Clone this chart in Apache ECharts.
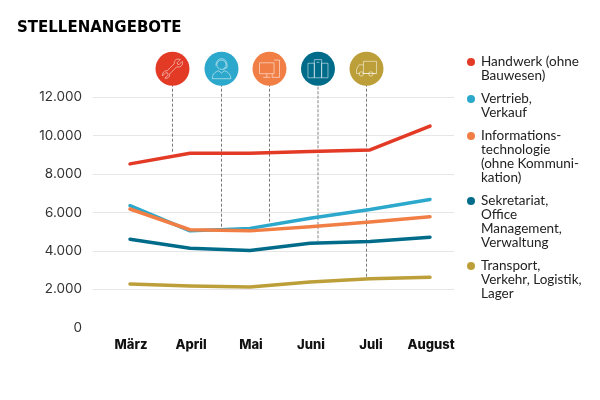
<!DOCTYPE html>
<html>
<head>
<meta charset="utf-8">
<style>html,body{margin:0;padding:0;background:#fff}#chart{width:600px;height:400px}</style>
<script src="https://cdn.jsdelivr.net/npm/echarts@6/dist/echarts.min.js"></script>
</head>
<body>
<div id="chart"></div>
<script>
const months = ['März', 'April', 'Mai', 'Juni', 'Juli', 'August'];
const yTickLabels = ['0', '2.000', '4.000', '6.000', '8.000', '10.000', '12.000'];

const handwerk = [8530, 9080, 9080, 9170, 9260, 10500];
const vertrieb = [6350, 5040, 5170, 5700, 6150, 6680];
const informatik = [6180, 5100, 5040, 5250, 5500, 5770];
const sekretariat = [4600, 4130, 4020, 4400, 4490, 4710];
const transport = [2270, 2170, 2120, 2380, 2550, 2620];

const seriesNames = ['Handwerk', 'Vertrieb', 'Informationstechnologie', 'Sekretariat', 'Transport'];
const seriesValues = [handwerk, vertrieb, informatik, sekretariat, transport];
const colors = ['#e33a26', '#2ba8cb', '#f17f45', '#006c8a', '#bd9f3a'];

const legendLines = [
  ['Handwerk (ohne', 'Bauwesen)'],
  ['Vertrieb,', 'Verkauf'],
  ['Informations-', 'technologie', '(ohne Kommuni-', 'kation)'],
  ['Sekretariat,', 'Office', 'Management,', 'Verwaltung'],
  ['Transport,', 'Verkehr, Logistik,', 'Lager']
];

// icon positions in axis units, the leader lines hang from them
const iconX = [0.7083, 1.525, 2.325, 3.133, 3.9417];
const iconY = 13490;
const leaderEnd = [9100, 5260, 5480, 4530, 2620];

const iconPaths = [
  'M20 3L16.5 6.5L17 8L18.5 8.5L22 5C23 8 21 11.5 17.5 11L16 10.8L8.5 18.5C9 21.5 6.5 23.5 3.5 23L7 19.5L6.5 17.5L4.5 17L1 20.5C0.5 17.5 3 14.5 6 15L13.5 7.5C12.8 4 16 1.5 20 3Z',
  'M12 4A5 5 0 1 1 11.99 4ZM2 24C2 18 7 16 9 15.5L12 18L15 15.5C17 16 22 18 22 24ZM6 10C6 0 18 0 18 10L18 12L14 14',
  'M1 5H17V17H1ZM9 17V21M5 21H13M17 2H23V21H15V17',
  'M1 7H8V23H1ZM8 3H16V23H8ZM16 7H23V23H16ZM10.5 6H13.5',
  'M9 4H24V18H9ZM9 8H4L1 13V18H5M8 18H16M19 18H24M6.5 16A2.5 2.5 0 1 1 6.49 16ZM17.5 16A2.5 2.5 0 1 1 17.49 16Z'
];

const chart = echarts.init(document.getElementById('chart'));

const font = 'Lato';
const legendGraphic = [];
let ly = 62;
legendLines.forEach((lines, i) => {
  legendGraphic.push({
    type: 'circle', shape: { cx: 471, cy: ly, r: 4 }, style: { fill: colors[i] }
  });
  lines.forEach((line, j) => {
    legendGraphic.push({
      type: 'text', x: 481, y: ly + j * 14,
      style: { text: line, font: '13.5px ' + font, fill: '#222', textVerticalAlign: 'middle' }
    });
  });
  ly += lines.length * 14 + 9;
});

const leaderSeries = iconX.map((x, i) => ({
  type: 'line',
  data: [[x, iconY], [x, leaderEnd[i]]],
  showSymbol: false,
  clip: false,
  silent: true,
  lineStyle: i === 3
    ? { color: '#a8a8a8', width: 1.4, type: [3, 1.5], opacity: 1 }
    : { color: '#555', width: 0.8, type: [3, 2], opacity: 1 },
  z: 1
}));

const lineSeries = seriesNames.map((name, i) => ({
  name,
  type: 'line',
  data: seriesValues[i].map((v, k) => [k, v]),
  showSymbol: false,
  clip: false,
  lineStyle: { color: colors[i], width: 3.5, cap: 'round', join: 'round' },
  z: 2
}));

const iconDiscs = {
  type: 'scatter',
  data: iconX.map((x, i) => ({ value: [x, iconY], itemStyle: { color: colors[i], opacity: 1 } })),
  symbolSize: 34,
  clip: false,
  silent: true,
  z: 3
};

const iconGlyphs = {
  type: 'scatter',
  data: iconX.map((x, i) => ({ value: [x, iconY], symbol: 'path://' + iconPaths[i] })),
  symbolSize: 20,
  symbolKeepAspect: true,
  clip: false,
  silent: true,
  itemStyle: { color: 'none', borderColor: '#fff', borderWidth: 0.7, opacity: 0.75 },
  z: 4
};

chart.setOption({
  animation: false,
  backgroundColor: '#fff',
  grid: { left: 93, right: 146, top: 97.3, bottom: 72.4 },
  xAxis: {
    type: 'value',
    min: -37 / 60,
    max: 5.4,
    axisLine: { show: false },
    axisTick: { show: false },
    splitLine: { show: false },
    axisLabel: {
      customValues: [0, 1, 2, 3, 4, 5],
      formatter: v => months[v],
      margin: 11,
      padding: [0, 0, 0, 2],
      fontFamily: 'Inter',
      fontWeight: 800,
      fontSize: 13,
      color: '#111'
    }
  },
  yAxis: {
    type: 'value',
    min: 0,
    max: 12000,
    interval: 2000,
    axisLine: { show: false },
    axisTick: { show: false },
    splitLine: { showMinLine: false, lineStyle: { color: '#e6e6e6', width: 1 } },
    axisLabel: {
      formatter: v => yTickLabels[v / 2000],
      margin: 11,
      fontFamily: 'Inter',
      fontSize: 13.5,
      color: '#333'
    }
  },
  series: [...leaderSeries, ...lineSeries, iconDiscs, iconGlyphs],
  graphic: [
    {
      type: 'text', x: 17, y: 28,
      style: { text: 'STELLENANGEBOTE', font: 'bold 15px "DejaVu Sans"', fill: '#000', textVerticalAlign: 'middle' }
    },
    ...legendGraphic
  ]
});
</script>
</body>
</html>
